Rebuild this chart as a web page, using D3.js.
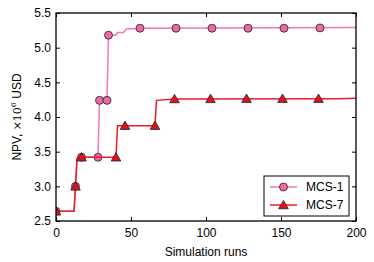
<!DOCTYPE html>
<html lang="en">
  <head>
    <meta charset="UTF-8">
    <title>NPV vs simulation runs</title>
    <style>
      body { margin: 0; background: #fff; }
      text { font-family: "Liberation Sans", Arial, sans-serif; }
    </style>
  </head>
  <body>
    <div id="chart-container"></div>
    <script src="https://d3js.org/d3.v7.min.js"></script>
    <script>
      // MCS-1 curve (run, NPV in 1e6 USD)
      const mcs1Runs = [0, 12, 13, 14, 15, 28, 29, 34, 35, 40, 41, 45, 47, 60, 200];
      const mcs1Npv  = [2.64, 2.64, 3.0, 3.4, 3.42, 3.42, 4.24, 4.24, 5.18, 5.18, 5.22, 5.22, 5.27, 5.28, 5.29];
      const mcs1MarkRuns = [0, 13, 17, 28, 29, 34, 35, 56, 80, 104, 128, 152, 176];
      const mcs1MarkNpv  = [2.64, 3.0, 3.42, 3.42, 4.24, 4.24, 5.18, 5.28, 5.28, 5.28, 5.28, 5.28, 5.285];

      // MCS-7 curve
      const mcs7Runs = [0, 12, 13, 14, 15, 40, 41, 66, 67, 79, 188, 200];
      const mcs7Npv  = [2.64, 2.64, 3.0, 3.4, 3.42, 3.42, 3.875, 3.875, 4.24, 4.26, 4.265, 4.27];
      const mcs7MarkRuns = [0, 13, 17, 40, 46, 66, 79, 103, 127, 151, 175];
      const mcs7MarkNpv  = [2.64, 3.0, 3.42, 3.42, 3.875, 3.875, 4.26, 4.262, 4.265, 4.265, 4.265];

      const xTicks = [0, 50, 100, 150, 200];
      const yTicks = [2.5, 3.0, 3.5, 4.0, 4.5, 5.0, 5.5];
      const seriesNames = ["MCS-1", "MCS-7"];

      const margin = { top: 13, right: 18, bottom: 41, left: 56 };
      const width = 374 - margin.left - margin.right;
      const height = 262 - margin.top - margin.bottom;

      const svg = d3.select("#chart-container")
        .append("svg")
        .attr("width", 374)
        .attr("height", 262)
        .append("g")
        .attr("transform", "translate(" + margin.left + "," + margin.top + ")");

      const x = d3.scaleLinear().domain([0, 200]).range([0, width]);
      const y = d3.scaleLinear().domain([2.5, 5.5]).range([height, 0]);

      svg.append("clipPath").attr("id", "plot-clip")
        .append("rect").attr("width", width).attr("height", height);

      const line = d3.line()
        .x(d => x(d[0]))
        .y(d => y(d[1]));

      const series = [
        { runs: mcs1Runs, npv: mcs1Npv, mRuns: mcs1MarkRuns, mNpv: mcs1MarkNpv,
          lineColor: "#f478ae", fill: "#ee6aa7", marker: d3.symbolCircle, size: 50 },
        { runs: mcs7Runs, npv: mcs7Npv, mRuns: mcs7MarkRuns, mNpv: mcs7MarkNpv,
          lineColor: "#ec1c2a", fill: "#e3101e", marker: d3.symbolTriangle, size: 40 }
      ];

      const plot = svg.append("g").attr("clip-path", "url(#plot-clip)");

      series.forEach(s => {
        plot.append("path")
          .datum(s.runs.map((r, i) => [r, s.npv[i]]))
          .attr("fill", "none")
          .attr("stroke", s.lineColor)
          .attr("stroke-width", 1.5)
          .attr("d", line);

        plot.append("g")
          .selectAll("path")
          .data(s.mRuns.map((r, i) => [r, s.mNpv[i]]))
          .enter()
          .append("path")
          .attr("transform", d => "translate(" + x(d[0]) + "," + (y(d[1]) + (s.marker === d3.symbolTriangle ? 1 : 0)) + ")")
          .attr("d", d3.symbol().type(s.marker).size(s.size))
          .attr("fill", s.fill)
          .attr("stroke", "#222")
          .attr("stroke-width", 0.8);
      });

      // axes, ticks pointing inward
      const axisFont = g => g.selectAll("text")
        .style("font-size", "12px")
        .style("font-family", "'Liberation Sans', Arial, sans-serif")
        .attr("fill", "#000");

      svg.append("g")
        .attr("transform", "translate(0," + height + ")")
        .call(d3.axisBottom(x).tickValues(xTicks).tickSizeInner(-4).tickSizeOuter(0).tickPadding(7))
        .call(g => g.select(".domain").remove())
        .call(axisFont);

      svg.append("g")
        .call(d3.axisLeft(y).tickValues(yTicks).tickFormat(d3.format(".1f")).tickSizeInner(-4).tickSizeOuter(0).tickPadding(5))
        .call(g => g.select(".domain").remove())
        .call(axisFont);

      svg.append("g")
        .call(d3.axisTop(x).tickValues(xTicks).tickFormat("").tickSizeInner(-4).tickSizeOuter(0))
        .call(g => g.select(".domain").remove());

      svg.append("g")
        .attr("transform", "translate(" + width + ",0)")
        .call(d3.axisRight(y).tickValues(yTicks).tickFormat("").tickSizeInner(-4).tickSizeOuter(0))
        .call(g => g.select(".domain").remove());

      svg.append("rect")
        .attr("width", width)
        .attr("height", height)
        .attr("fill", "none")
        .attr("stroke", "#000")
        .attr("stroke-width", 1.3);

      // axis labels
      svg.append("text")
        .attr("text-anchor", "middle")
        .attr("x", width / 2)
        .attr("y", height + 35)
        .style("font-size", "12px")
        .text("Simulation runs");

      const yLabel = svg.append("text")
        .attr("transform", "translate(-35," + (height / 2) + ") rotate(-90)")
        .attr("text-anchor", "middle")
        .style("font-size", "12px");
      yLabel.append("tspan").text("NPV, ");
      yLabel.append("tspan").style("font-family", "'DejaVu Serif', serif").style("font-size", "11px").text("\u00d710");
      yLabel.append("tspan").attr("dy", -5).style("font-family", "'DejaVu Serif', serif").style("font-size", "8px").text("6");
      yLabel.append("tspan").attr("dy", 5).text(" USD");

      // legend
      const legend = svg.append("g").attr("transform", "translate(" + (width - 92) + "," + (height - 45) + ")");
      legend.append("rect")
        .attr("width", 85)
        .attr("height", 40)
        .attr("fill", "#fff")
        .attr("stroke", "#000")
        .attr("stroke-width", 1);

      series.forEach((s, i) => {
        const ly = 11 + i * 18;
        legend.append("line")
          .attr("x1", 6).attr("x2", 33)
          .attr("y1", ly).attr("y2", ly)
          .attr("stroke", s.lineColor)
          .attr("stroke-width", 1.5);
        legend.append("path")
          .attr("transform", "translate(19.5," + (ly + (s.marker === d3.symbolTriangle ? 1 : 0)) + ")")
          .attr("d", d3.symbol().type(s.marker).size(s.size))
          .attr("fill", s.fill)
          .attr("stroke", "#222")
          .attr("stroke-width", 0.8);
        legend.append("text")
          .attr("x", 42)
          .attr("y", ly + 4)
          .style("font-size", "12px")
          .text(seriesNames[i]);
      });
    </script>
  </body>
</html>
